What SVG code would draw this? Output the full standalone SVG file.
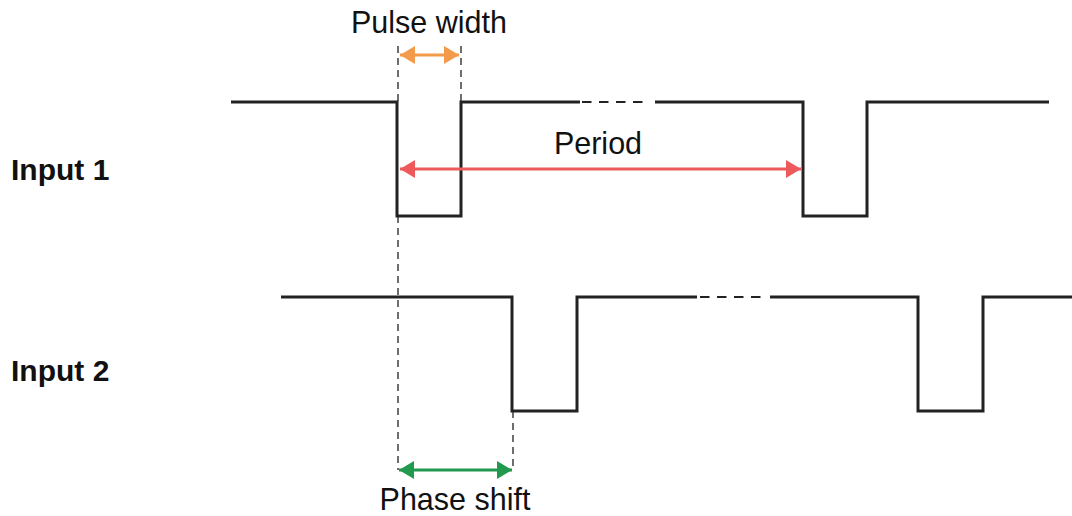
<svg xmlns="http://www.w3.org/2000/svg" width="1072" height="516" viewBox="0 0 1072 516">
<style>
.wave{fill:none;stroke:#222;stroke-width:3;stroke-linejoin:miter;stroke-linecap:butt}
.gap{fill:none;stroke:#222;stroke-width:2.2;stroke-dasharray:9.5 7.5}
.guide{fill:none;stroke:#222;stroke-width:1.3;stroke-dasharray:7 5}
.lbl{font-family:"Liberation Sans",Arial,sans-serif;font-size:30.5px;fill:#111}
.title{font-family:"Liberation Sans",Arial,sans-serif;font-size:30px;font-weight:bold;fill:#111}
</style>
<defs>
<marker id="ao" markerUnits="userSpaceOnUse" markerWidth="16" markerHeight="18" refX="15" refY="9" orient="auto-start-reverse"><path d="M0,0 L15,9 L0,18 Z" fill="#F39A4B"/></marker>
<marker id="ar" markerUnits="userSpaceOnUse" markerWidth="16" markerHeight="18" refX="15" refY="9" orient="auto-start-reverse"><path d="M0,0 L15,9 L0,18 Z" fill="#EE5A5C"/></marker>
<marker id="ag" markerUnits="userSpaceOnUse" markerWidth="16" markerHeight="18" refX="15" refY="9" orient="auto-start-reverse"><path d="M0,0 L15,9 L0,18 Z" fill="#21994F"/></marker>
</defs>
<g id="input1">
<text class="title" x="11" y="180">Input 1</text>
<path class="wave" d="M231,102 H397 V216 H461 V102 H580"/>
<path class="gap" d="M582,102 H645"/>
<path class="wave" d="M655,102 H803 V216 H867 V102 H1049"/>
</g>
<g id="input2">
<text class="title" x="11" y="381">Input 2</text>
<path class="wave" d="M281,297 H512 V411 H577 V297 H697"/>
<path class="gap" d="M700,297 H761"/>
<path class="wave" d="M770,297 H918 V411 H983 V297 H1072"/>
</g>
<g id="connectors">
<path class="guide" d="M398,46 V102"/>
<path class="guide" d="M461,46 V102"/>
<path class="guide" d="M398,216 V470"/>
<path class="guide" d="M513,411 V470"/>
<path d="M400,55 H459" stroke="#F39A4B" stroke-width="3" fill="none" marker-start="url(#ao)" marker-end="url(#ao)"/>
<path d="M400,169 H801" stroke="#EE5A5C" stroke-width="3" fill="none" marker-start="url(#ar)" marker-end="url(#ar)"/>
<path d="M399,470 H512" stroke="#21994F" stroke-width="3" fill="none" marker-start="url(#ag)" marker-end="url(#ag)"/>
</g>
<g id="labels">
<text class="lbl" x="429" y="33" text-anchor="middle">Pulse width</text>
<text class="lbl" x="598" y="154" text-anchor="middle">Period</text>
<text class="lbl" x="455" y="510" text-anchor="middle">Phase shift</text>
</g>
</svg>
